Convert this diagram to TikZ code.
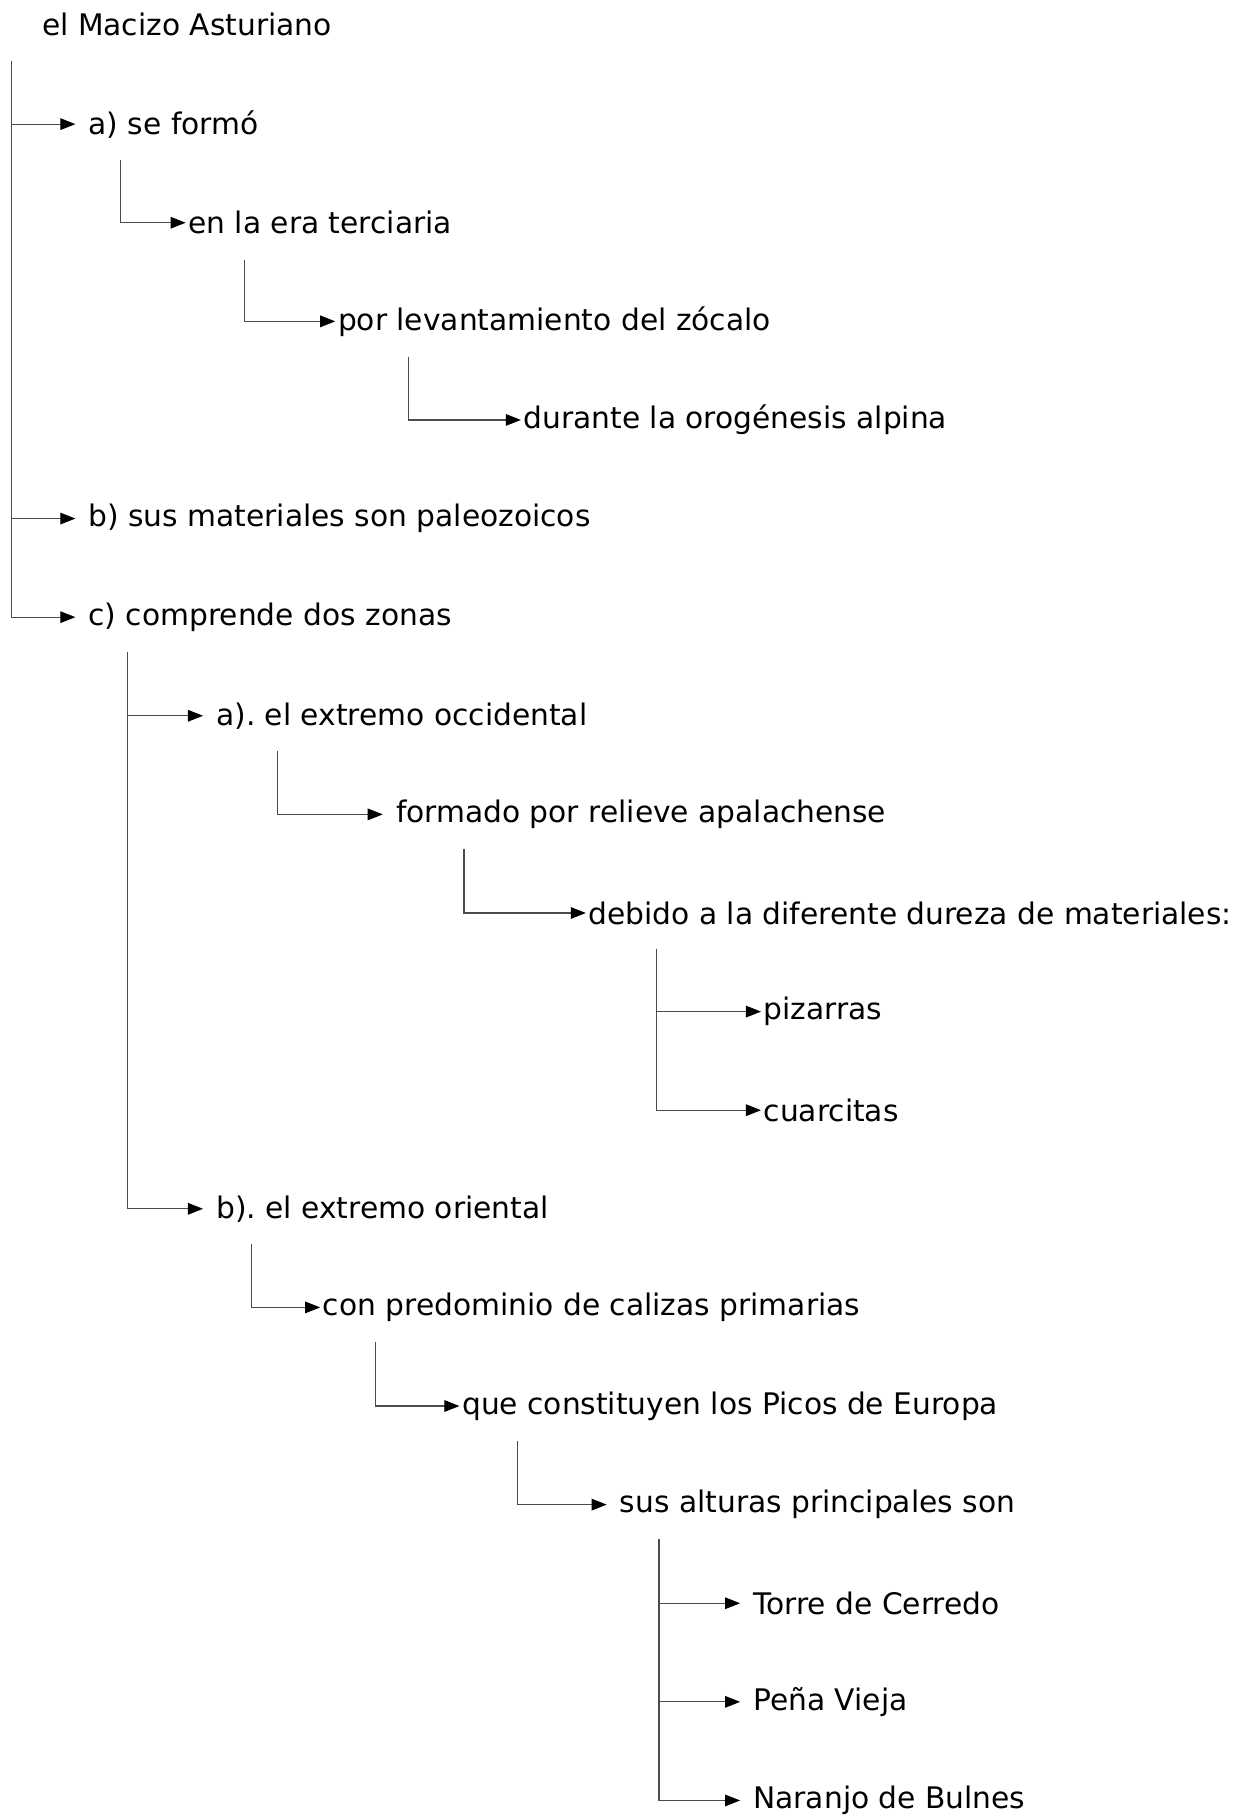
\documentclass[tikz,border=0pt]{standalone}
\usepackage{fontspec}
\setmainfont{DejaVu Sans}
\usetikzlibrary{arrows.meta}

\begin{document}
\frenchspacing
\begin{tikzpicture}[x=0.5pt,y=-0.5pt]
        \tikzset{leaf/.style = {anchor=west,inner xsep=1pt,inner ysep=0pt,font=\fontsize{12.8}{14}\selectfont}};
        \tikzset{gapleaf/.style = {leaf,inner xsep=5.5pt}};
        \tikzset{edge/.style = {-{Triangle[length=6.5pt,width=5pt,color=black]},draw=black!70,line width=0.5pt}};
        \useasboundingbox (0,0) rectangle (1072,1568);
        \node[leaf] (n0) at (34,21) {el Macizo Asturiano};
        \node[gapleaf] (n1) at (65,107) {a) se formó};
        \node[leaf] (n2) at (160,192) {en la era terciaria};
        \node[leaf] (n3) at (289,277) {por levantamiento del zócalo};
        \node[leaf] (n4) at (449,362) {durante la orogénesis alpina};
        \node[gapleaf] (n5) at (65,447) {b) sus materiales son paleozoicos};
        \node[gapleaf] (n6) at (65,532) {c) comprende dos zonas};
        \node[gapleaf] (n7) at (175,617) {a). el extremo occidental};
        \node[gapleaf] (n8) at (330,702) {formado por relieve apalachense};
        \node[leaf] (n9) at (505,787) {debido a la diferente dureza de materiales:};
        \node[leaf] (n10) at (656,872) {pizarras};
        \node[leaf] (n11) at (656,957) {cuarcitas};
        \node[gapleaf] (n12) at (175,1042) {b). el extremo oriental};
        \node[leaf] (n13) at (276,1127) {con predominio de calizas primarias};
        \node[leaf] (n14) at (396,1212) {que constituyen los Picos de Europa};
        \node[gapleaf] (n15) at (523,1297) {sus alturas principales son};
        \node[gapleaf] (n16) at (638,1382) {Torre de Cerredo};
        \node[gapleaf] (n17) at (638,1467) {Peña Vieja};
        \node[gapleaf] (n18) at (638,1552) {Naranjo de Bulnes};
        % tops of the vertical lines
        \coordinate (c0) at (10,53);
        \coordinate (c1) at (104,138);
        \coordinate (c2) at (211,224);
        \coordinate (c3) at (352,308);
        \coordinate (c6) at (110,562);
        \coordinate (c7) at (239,647);
        \coordinate (c8) at (400,732);
        \coordinate (c9) at (566,818);
        \coordinate (c12) at (217,1072);
        \coordinate (c13) at (324,1157);
        \coordinate (c14) at (446,1242);
        \coordinate (c15) at (568,1327);
        \draw[edge] (c0) |- (n1.west);
        \draw[edge] (c0) |- (n5.west);
        \draw[edge] (c0) |- (n6.west);
        \draw[edge] (c1) |- (n2.west);
        \draw[edge] (c2) |- (n3.west);
        \draw[edge] (c3) |- (n4.west);
        \draw[edge] (c6) |- (n7.west);
        \draw[edge] (c6) |- (n12.west);
        \draw[edge] (c7) |- (n8.west);
        \draw[edge] (c8) |- (n9.west);
        \draw[edge] (c9) |- (n10.west);
        \draw[edge] (c9) |- (n11.west);
        \draw[edge] (c12) |- (n13.west);
        \draw[edge] (c13) |- (n14.west);
        \draw[edge] (c14) |- (n15.west);
        \draw[edge] (c15) |- (n16.west);
        \draw[edge] (c15) |- (n17.west);
        \draw[edge] (c15) |- (n18.west);
    \end{tikzpicture}
\end{document}
